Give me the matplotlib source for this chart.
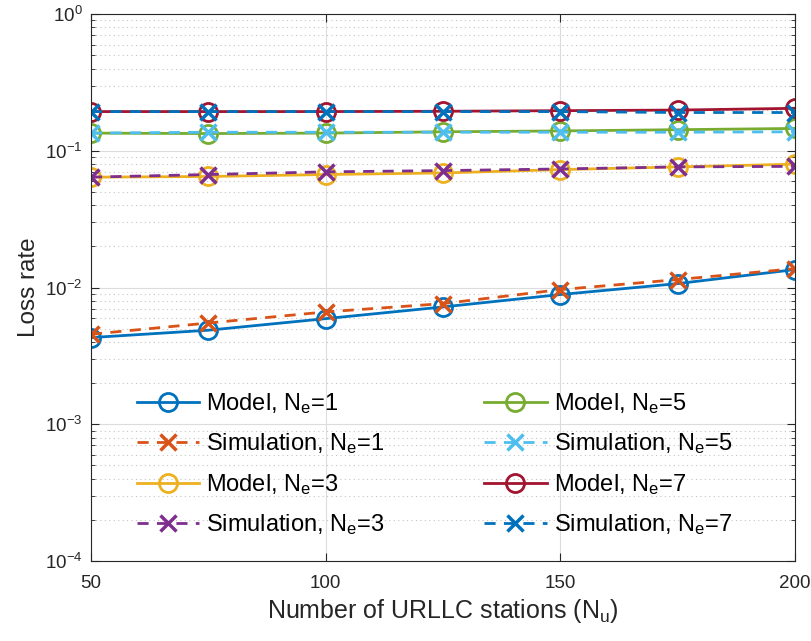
import matplotlib
matplotlib.use("Agg")
import matplotlib.pyplot as plt
import numpy as np

plt.rcParams['font.family'] = ['Liberation Sans', 'DejaVu Sans']
plt.rcParams['mathtext.fontset'] = 'custom'
plt.rcParams['mathtext.rm'] = 'Liberation Sans'
plt.rcParams['mathtext.it'] = 'Liberation Sans'
plt.rcParams['mathtext.default'] = 'regular'

# number of URLLC stations
n_u = [50, 75, 100, 125, 150, 175, 200]

# loss rate
model_1 = [0.00431, 0.00488, 0.00593, 0.00722, 0.0089, 0.0107, 0.01355]
sim_1 = [0.00456, 0.00551, 0.00664, 0.00764, 0.00967, 0.01145, 0.01377]
model_3 = [0.0643, 0.0650, 0.0672, 0.0690, 0.0730, 0.0764, 0.0800]
sim_3 = [0.0643, 0.0672, 0.0703, 0.0718, 0.0738, 0.0764, 0.0771]
model_5 = [0.135, 0.134, 0.135, 0.138, 0.140, 0.143, 0.146]
sim_5 = [0.135, 0.137, 0.137, 0.137, 0.137, 0.137, 0.138]
model_7 = [0.194, 0.194, 0.194, 0.195, 0.197, 0.199, 0.205]
sim_7 = [0.194, 0.194, 0.194, 0.194, 0.194, 0.191, 0.191]

series = [
    (model_1, 'Model, N$_e$=1', '#0072BD', '-', 'o'),
    (sim_1, 'Simulation, N$_e$=1', '#D95319', '--', 'x'),
    (model_3, 'Model, N$_e$=3', '#EDB120', '-', 'o'),
    (sim_3, 'Simulation, N$_e$=3', '#7E2F8E', '--', 'x'),
    (model_5, 'Model, N$_e$=5', '#77AC30', '-', 'o'),
    (sim_5, 'Simulation, N$_e$=5', '#4DBEEE', '--', 'x'),
    (model_7, 'Model, N$_e$=7', '#A2142F', '-', 'o'),
    (sim_7, 'Simulation, N$_e$=7', '#0072BD', '--', 'x'),
]

fig = plt.figure(figsize=(8.11, 6.41), dpi=100)
ax = fig.add_axes([0.1122, 0.1248, 0.868, 0.853])

for vals, lab, col, ls, mk in series:
    if mk == 'o':
        ax.plot(n_u, vals, color=col, ls=ls, lw=2, marker='o', ms=13,
                mfc='none', mew=2, label=lab)
    else:
        ax.plot(n_u, vals, color=col, ls=ls, lw=2, marker='x', ms=11,
                mew=2.5, label=lab, dashes=(4, 3))

ax.set_yscale('log')
ax.set_xlim(50, 200)
ax.set_ylim(1e-4, 1)
ax.set_xticks([50, 100, 150, 200])
ax.set_yticks([1e-4, 1e-3, 1e-2, 1e-1, 1])

ax.grid(True, which='major', color='#dcdcdc', lw=0.8)
ax.grid(True, which='minor', axis='y', color='#c4c4c4', ls=(0, (1, 3)), lw=0.8)
ax.set_axisbelow(True)
ax.tick_params(which='both', direction='in', top=True, right=True,
               labelsize=13.5, colors='#262626')
ax.tick_params(which='major', length=6)
ax.tick_params(which='minor', length=3)
ax.tick_params(axis='x', pad=10)
ax.tick_params(axis='y', pad=6)
for s in ax.spines.values():
    s.set_color('#262626')
    s.set_linewidth(0.8)

ax.set_xlabel('Number of URLLC stations (N$_u$)', fontsize=18, color='#262626',
              labelpad=4)
ax.set_ylabel('Loss rate', fontsize=17.5, color='#262626', labelpad=4)

ax.legend(loc='upper left', bbox_to_anchor=(0.065, 0.311), ncol=2,
          frameon=False, fontsize=17, handlelength=2.65, handletextpad=0.3,
          columnspacing=4.2, labelspacing=0.66, borderaxespad=0, borderpad=0)

fig.savefig('out.png', dpi=100)
